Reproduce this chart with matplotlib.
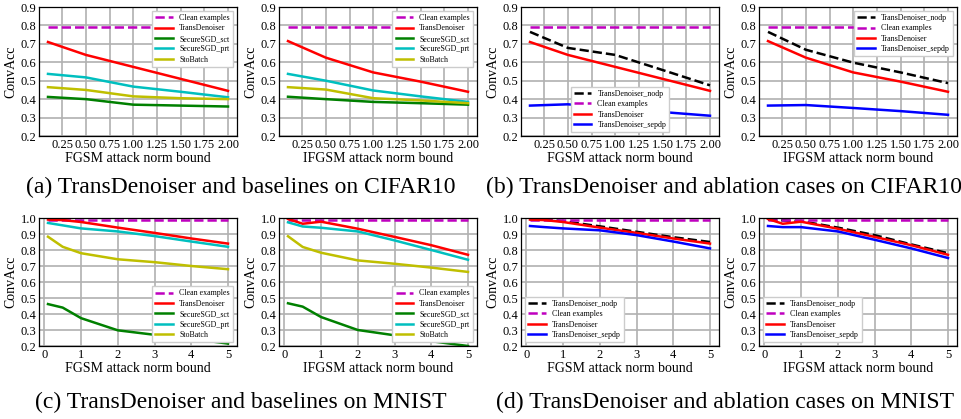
import numpy as np
import matplotlib
matplotlib.use('Agg')
import matplotlib.pyplot as plt

plt.rcParams['font.family'] = ['Liberation Serif', 'DejaVu Serif']

# x values (attack norm bound)
x_cifar = [0.1, 0.5, 1.0, 1.5, 2.0]
x_mnist = [0.1, 0.5, 1, 2, 3, 4, 5]

clean_cifar = 0.794
clean_mnist = 0.99

# CIFAR10, FGSM
cf_trans = [0.71, 0.64, 0.575, 0.51, 0.445]
cf_sct = [0.412, 0.40, 0.37, 0.365, 0.36]
cf_prt = [0.537, 0.518, 0.468, 0.44, 0.41]
cf_sto = [0.465, 0.45, 0.415, 0.405, 0.40]
cf_nodp = [0.765, 0.678, 0.64, 0.558, 0.475]
cf_sepdp = [0.365, 0.372, 0.35, 0.33, 0.31]

# CIFAR10, IFGSM
ci_trans = [0.715, 0.625, 0.545, 0.495, 0.44]
ci_sct = [0.413, 0.40, 0.385, 0.378, 0.37]
ci_prt = [0.537, 0.50, 0.447, 0.415, 0.385]
ci_sto = [0.465, 0.452, 0.405, 0.393, 0.378]
ci_nodp = [0.765, 0.668, 0.598, 0.545, 0.487]
ci_sepdp = [0.365, 0.368, 0.352, 0.335, 0.315]

# MNIST, FGSM
mf_trans = [0.99, 0.987, 0.975, 0.94, 0.907, 0.872, 0.84]
mf_sct = [0.462, 0.44, 0.374, 0.298, 0.27, 0.245, 0.215]
mf_prt = [0.969, 0.954, 0.935, 0.916, 0.887, 0.853, 0.82]
mf_sto = [0.883, 0.82, 0.78, 0.742, 0.724, 0.70, 0.68]
mf_nodp = [0.992, 0.99, 0.98, 0.948, 0.914, 0.88, 0.85]
mf_sepdp = [0.95, 0.943, 0.935, 0.923, 0.893, 0.853, 0.81]

# MNIST, IFGSM
mi_trans = [0.994, 0.964, 0.977, 0.933, 0.882, 0.83, 0.77]
mi_sct = [0.467, 0.446, 0.381, 0.30, 0.267, 0.23, 0.20]
mi_prt = [0.973, 0.947, 0.939, 0.916, 0.86, 0.80, 0.739]
mi_sto = [0.886, 0.819, 0.783, 0.735, 0.714, 0.69, 0.663]
mi_nodp = [0.99, 0.985, 0.98, 0.94, 0.893, 0.835, 0.78]
mi_sepdp = [0.95, 0.943, 0.943, 0.916, 0.864, 0.81, 0.75]

captions = ['(a) TransDenoiser and baselines on CIFAR10',
            '(b) TransDenoiser and ablation cases on CIFAR10',
            '(c) TransDenoiser and baselines on MNIST',
            '(d) TransDenoiser and ablation cases on MNIST']

W, H = 961, 419
fig = plt.figure(figsize=(W / 100, H / 100), dpi=100)

lefts = [39, 279, 521, 759]
aw = 198
rows = [(7, 136), (218, 346)]
lw = 1.8


def make_ax(col, row):
    top, bot = rows[row]
    ax = fig.add_axes([lefts[col] / W, 1 - bot / H, aw / W, (bot - top) / H])
    ax.grid(True, color='#b0b0b0', lw=1.2)
    ax.set_axisbelow(True)
    ax.tick_params(length=0, pad=2, labelsize=9)
    for s in ax.spines.values():
        s.set_color('black')
        s.set_linewidth(0.9)
    ax.set_ylabel('ConvAcc', fontsize=10, labelpad=2)
    return ax


def baselines(ax, x, clean, trans, sct, prt, sto, loc):
    ax.plot([x[0], x[-1]], [clean, clean], 'm--', lw=lw, label='Clean examples')
    ax.plot(x, trans, 'r', lw=lw, label='TransDenoiser')
    ax.plot(x, sct, 'g', lw=lw, label='SecureSGD_sct')
    ax.plot(x, prt, 'c', lw=lw, label='SecureSGD_prt')
    ax.plot(x, sto, 'y', lw=lw, label='StoBatch')
    ax.legend(loc=loc, fontsize=5.7, labelspacing=0.3, handlelength=2.2,
              fancybox=False, edgecolor='#cccccc', framealpha=1)


def ablation(ax, x, clean, nodp, trans, sepdp, loc):
    ax.plot(x, nodp, 'k--', lw=lw, label='TransDenoiser_nodp')
    ax.plot([x[0], x[-1]], [clean, clean], 'm--', lw=lw, label='Clean examples')
    ax.plot(x, trans, 'r', lw=lw, label='TransDenoiser')
    ax.plot(x, sepdp, 'b', lw=lw, label='TransDenoiser_sepdp')
    ax.legend(loc=loc, fontsize=5.7, labelspacing=0.3, handlelength=2.2,
              fancybox=False, edgecolor='#cccccc', framealpha=1)


def finish(ax, xlabel, mnist):
    ax.set_xlabel(xlabel, fontsize=10, labelpad=1)
    if mnist:
        ax.set_ylim(0.2, 1.0)
        ax.set_yticks(np.arange(0.2, 1.01, 0.1))
        ax.set_xticks([0, 1, 2, 3, 4, 5])
    else:
        ax.set_ylim(0.2, 0.9)
        ax.set_yticks(np.arange(0.2, 0.91, 0.1))
        ax.set_xticks([0.25, 0.5, 0.75, 1.0, 1.25, 1.5, 1.75, 2.0])
        ax.set_xticklabels(['%.2f' % t for t in ax.get_xticks()])
    ax.set_yticklabels(['%.1f' % t for t in ax.get_yticks()])


# row 1: CIFAR10
ax = make_ax(0, 0)
baselines(ax, x_cifar, clean_cifar, cf_trans, cf_sct, cf_prt, cf_sto, 'upper right')
finish(ax, 'FGSM attack norm bound', False)

ax = make_ax(1, 0)
baselines(ax, x_cifar, clean_cifar, ci_trans, ci_sct, ci_prt, ci_sto, 'upper right')
finish(ax, 'IFGSM attack norm bound', False)

ax = make_ax(2, 0)
ablation(ax, x_cifar, clean_cifar, cf_nodp, cf_trans, cf_sepdp, 'lower center')
finish(ax, 'FGSM attack norm bound', False)

ax = make_ax(3, 0)
ablation(ax, x_cifar, clean_cifar, ci_nodp, ci_trans, ci_sepdp, 'upper right')
finish(ax, 'IFGSM attack norm bound', False)

# row 2: MNIST
ax = make_ax(0, 1)
baselines(ax, x_mnist, clean_mnist, mf_trans, mf_sct, mf_prt, mf_sto, 'lower right')
finish(ax, 'FGSM attack norm bound', True)

ax = make_ax(1, 1)
baselines(ax, x_mnist, clean_mnist, mi_trans, mi_sct, mi_prt, mi_sto, 'lower right')
finish(ax, 'IFGSM attack norm bound', True)

ax = make_ax(2, 1)
ablation(ax, x_mnist, clean_mnist, mf_nodp, mf_trans, mf_sepdp, 'lower left')
finish(ax, 'FGSM attack norm bound', True)

ax = make_ax(3, 1)
ablation(ax, x_mnist, clean_mnist, mi_nodp, mi_trans, mi_sepdp, 'lower left')
finish(ax, 'IFGSM attack norm bound', True)

# captions
cap_x = [241 / W, 724 / W, 241 / W, 725 / W]
cap_y = [1 - 193 / H, 1 - 193 / H, 1 - 408 / H, 1 - 408 / H]
for i in range(4):
    fig.text(cap_x[i], cap_y[i], captions[i], fontsize=17, ha='center', va='baseline')

fig.savefig('out.png', dpi=100)
